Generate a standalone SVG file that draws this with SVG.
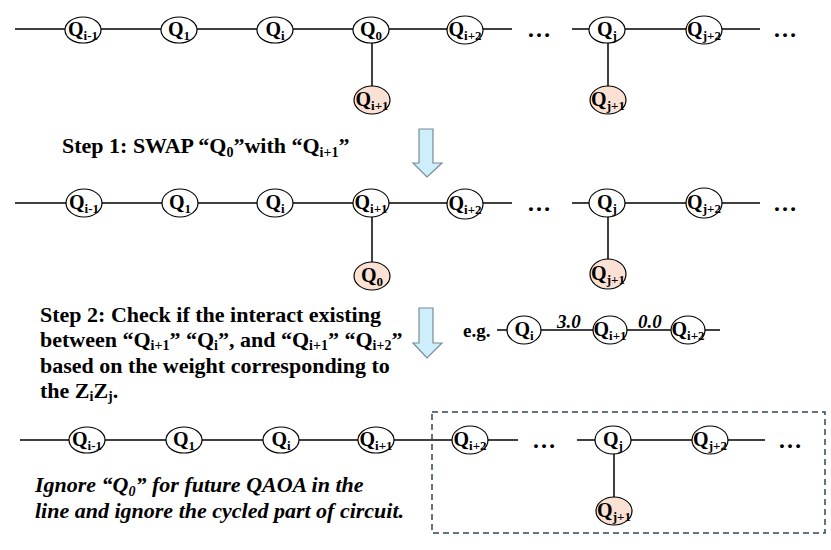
<svg xmlns="http://www.w3.org/2000/svg" width="831" height="550" viewBox="0 0 831 550">
<style>
.ln{stroke:#000;stroke-width:1.5;fill:none}
.nd{fill:#fff;stroke:#000;stroke-width:1.2}
.or{fill:#fbe1d3;stroke:#000;stroke-width:1.2}
.q{font-family:"Liberation Serif","Times New Roman",serif;font-weight:bold;font-size:20px;text-anchor:middle;fill:#000}
.s{font-size:13px}
.t{font-family:"Liberation Serif","Times New Roman",serif;font-weight:bold;font-size:22px;fill:#000}
.ts{font-size:14px}
.it{font-family:"Liberation Serif","Times New Roman",serif;font-weight:bold;font-style:italic;font-size:22px;fill:#000}
.w{font-family:"Liberation Serif","Times New Roman",serif;font-weight:bold;font-style:italic;font-size:19px;fill:#000}
.dots{font-family:"Liberation Serif","Times New Roman",serif;font-weight:bold;font-size:24px;fill:#000}
.arr{fill:#cdeefa;stroke:#7a8a99;stroke-width:1.2}
.box{fill:none;stroke:#2e4a5a;stroke-width:1.5;stroke-dasharray:6,4}
</style>

<g id="connectors">
<line class="ln" x1="15" y1="29" x2="512" y2="29"/>
<line class="ln" x1="572" y1="29" x2="760" y2="29"/>
<line class="ln" x1="372" y1="29" x2="372" y2="100"/>
<line class="ln" x1="608" y1="29" x2="608" y2="100"/>
<line class="ln" x1="15" y1="203" x2="512" y2="203"/>
<line class="ln" x1="572" y1="203" x2="760" y2="203"/>
<line class="ln" x1="372" y1="203" x2="372" y2="275"/>
<line class="ln" x1="608" y1="203" x2="608" y2="274"/>
<line class="ln" x1="497" y1="330" x2="720" y2="330"/>
<line class="ln" x1="20" y1="440" x2="518" y2="440"/>
<line class="ln" x1="577" y1="440" x2="765" y2="440"/>
<line class="ln" x1="614" y1="440" x2="614" y2="511"/>
</g>

<!-- Row 1 -->
<g id="r1-qim1"><ellipse class="nd" cx="83" cy="30" rx="18" ry="13"/><text class="q" x="83" y="36">Q<tspan class="s" dy="4">i-1</tspan></text></g>
<g id="r1-q1"><ellipse class="nd" cx="179" cy="30" rx="18" ry="13"/><text class="q" x="179" y="36">Q<tspan class="s" dy="4">1</tspan></text></g>
<g id="r1-qi"><ellipse class="nd" cx="275" cy="30" rx="18" ry="13"/><text class="q" x="275" y="36">Q<tspan class="s" dy="4">i</tspan></text></g>
<g id="r1-q0"><ellipse class="nd" cx="371" cy="30" rx="18" ry="13"/><text class="q" x="371" y="36">Q<tspan class="s" dy="4">0</tspan></text></g>
<g id="r1-qip2"><ellipse class="nd" cx="465" cy="30" rx="18" ry="14"/><text class="q" x="465" y="36">Q<tspan class="s" dy="4">i+2</tspan></text></g>
<g id="r1-qj"><ellipse class="nd" cx="607" cy="30" rx="18" ry="13"/><text class="q" x="607" y="36">Q<tspan class="s" dy="4">j</tspan></text></g>
<g id="r1-qjp2"><ellipse class="nd" cx="704" cy="30" rx="18" ry="14"/><text class="q" x="704" y="36">Q<tspan class="s" dy="4">j+2</tspan></text></g>
<g id="r1-qip1"><ellipse class="or" cx="372" cy="100" rx="18" ry="14"/><text class="q" x="372" y="106">Q<tspan class="s" dy="4">i+1</tspan></text></g>
<g id="r1-qjp1"><ellipse class="or" cx="608" cy="100" rx="18" ry="14"/><text class="q" x="608" y="106">Q<tspan class="s" dy="4">j+1</tspan></text></g>
<text class="dots" x="527" y="37">…</text>
<text class="dots" x="773" y="37">…</text>

<!-- Step 1 -->
<text class="t" x="62" y="153">Step 1: SWAP “Q<tspan class="ts" dy="4">0</tspan><tspan dy="-4">”with “Q</tspan><tspan class="ts" dy="4">i+1</tspan><tspan dy="-4">”</tspan></text>
<path id="arrow1" class="arr" d="M419,129 H433 V163 H442 L427,177 L413,163 H419 Z"/>

<!-- Row 2 -->
<g id="r2-qim1"><ellipse class="nd" cx="84" cy="203" rx="18" ry="14"/><text class="q" x="84" y="209">Q<tspan class="s" dy="4">i-1</tspan></text></g>
<g id="r2-q1"><ellipse class="nd" cx="180" cy="203" rx="18" ry="14"/><text class="q" x="180" y="209">Q<tspan class="s" dy="4">1</tspan></text></g>
<g id="r2-qi"><ellipse class="nd" cx="275" cy="203" rx="18" ry="14"/><text class="q" x="275" y="209">Q<tspan class="s" dy="4">i</tspan></text></g>
<g id="r2-qip1"><ellipse class="nd" cx="371" cy="203" rx="18" ry="14"/><text class="q" x="371" y="209">Q<tspan class="s" dy="4">i+1</tspan></text></g>
<g id="r2-qip2"><ellipse class="nd" cx="465" cy="204" rx="18" ry="15"/><text class="q" x="465" y="210">Q<tspan class="s" dy="4">i+2</tspan></text></g>
<g id="r2-qj"><ellipse class="nd" cx="607" cy="203" rx="18" ry="14"/><text class="q" x="607" y="209">Q<tspan class="s" dy="4">j</tspan></text></g>
<g id="r2-qjp2"><ellipse class="nd" cx="704" cy="203" rx="18" ry="15"/><text class="q" x="704" y="209">Q<tspan class="s" dy="4">j+2</tspan></text></g>
<g id="r2-q0"><ellipse class="or" cx="372" cy="276" rx="18" ry="14"/><text class="q" x="372" y="282">Q<tspan class="s" dy="4">0</tspan></text></g>
<g id="r2-qjp1"><ellipse class="or" cx="608" cy="274" rx="18" ry="15"/><text class="q" x="608" y="280">Q<tspan class="s" dy="4">j+1</tspan></text></g>
<text class="dots" x="527" y="211">…</text>
<text class="dots" x="773" y="211">…</text>

<!-- Step 2 -->
<text class="t" x="40" y="322">Step 2: Check if the interact existing</text>
<text class="t" x="40" y="347">between “Q<tspan class="ts" dy="3">i+1</tspan><tspan dy="-3">” “Q</tspan><tspan class="ts" dy="3">i</tspan><tspan dy="-3">”, and “Q</tspan><tspan class="ts" dy="3">i+1</tspan><tspan dy="-3">” “Q</tspan><tspan class="ts" dy="3">i+2</tspan><tspan dy="-3">”</tspan></text>
<text class="t" x="40" y="373">based on the weight corresponding to</text>
<text class="t" x="40" y="398">the Z<tspan class="ts" dy="3">i</tspan><tspan dy="-3">Z</tspan><tspan class="ts" dy="3">j</tspan><tspan dy="-3">.</tspan></text>
<path id="arrow2" class="arr" d="M419,308 H433 V343 H442 L427,358 L413,343 H419 Z"/>

<!-- e.g. -->
<text class="t" x="463" y="337" style="font-size:19px">e.g.</text>
<g id="eg-qi"><ellipse class="nd" cx="524" cy="330" rx="17" ry="14"/><text class="q" x="524" y="336">Q<tspan class="s" dy="4">i</tspan></text></g>
<g id="eg-qip1"><ellipse class="nd" cx="610" cy="330" rx="17" ry="14"/><text class="q" x="610" y="336">Q<tspan class="s" dy="4">i+1</tspan></text></g>
<g id="eg-qip2"><ellipse class="nd" cx="688" cy="330" rx="17" ry="14"/><text class="q" x="688" y="336">Q<tspan class="s" dy="4">i+2</tspan></text></g>
<text class="w" x="557" y="328">3.0</text>
<text class="w" x="638" y="328">0.0</text>

<!-- Row 3 -->
<rect id="cycled-box" class="box" x="432" y="412" width="393" height="121"/>
<g id="r3-qim1"><ellipse class="nd" cx="87" cy="440" rx="18" ry="13"/><text class="q" x="87" y="446">Q<tspan class="s" dy="4">i-1</tspan></text></g>
<g id="r3-q1"><ellipse class="nd" cx="184" cy="440" rx="18" ry="13"/><text class="q" x="184" y="446">Q<tspan class="s" dy="4">1</tspan></text></g>
<g id="r3-qi"><ellipse class="nd" cx="281" cy="440" rx="18" ry="13"/><text class="q" x="281" y="446">Q<tspan class="s" dy="4">i</tspan></text></g>
<g id="r3-qip1"><ellipse class="nd" cx="376" cy="440" rx="18" ry="13"/><text class="q" x="376" y="446">Q<tspan class="s" dy="4">i+1</tspan></text></g>
<g id="r3-qip2"><ellipse class="nd" cx="470" cy="440" rx="18" ry="14"/><text class="q" x="470" y="446">Q<tspan class="s" dy="4">i+2</tspan></text></g>
<g id="r3-qj"><ellipse class="nd" cx="613" cy="440" rx="18" ry="14"/><text class="q" x="613" y="446">Q<tspan class="s" dy="4">j</tspan></text></g>
<g id="r3-qjp2"><ellipse class="nd" cx="710" cy="440" rx="18" ry="14"/><text class="q" x="710" y="446">Q<tspan class="s" dy="4">j+2</tspan></text></g>
<g id="r3-qjp1"><ellipse class="or" cx="614" cy="511" rx="18" ry="14"/><text class="q" x="614" y="517">Q<tspan class="s" dy="4">j+1</tspan></text></g>
<text class="dots" x="532" y="448">…</text>
<text class="dots" x="778" y="448">…</text>

<text class="it" x="35" y="492">Ignore “Q<tspan class="ts" dy="4">0</tspan><tspan dy="-4">” for future QAOA in the</tspan></text>
<text class="it" x="35" y="518">line and ignore the cycled part of circuit.</text>
</svg>
